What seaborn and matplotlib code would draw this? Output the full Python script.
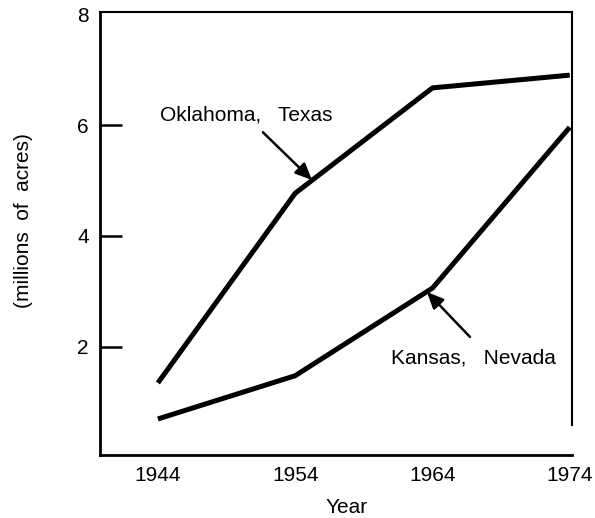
import pandas as pd
import matplotlib.pyplot as plt
import seaborn as sns

years = [1944, 1954, 1964, 1974]
oklahoma_texas = [1.35, 4.77, 6.67, 6.90]
kansas_nevada = [0.70, 1.48, 3.06, 5.96]
y_ticks = [2, 4, 6, 8]

df = pd.DataFrame({
    "Year": years * 2,
    "Acres": oklahoma_texas + kansas_nevada,
    "Region": ["Oklahoma, Texas"] * 4 + ["Kansas, Nevada"] * 4,
})

sns.set_style("white")
plt.rcParams["font.family"] = ["Liberation Sans", "DejaVu Sans"]
plt.rcParams["text.color"] = "black"
plt.rcParams["axes.labelcolor"] = "black"

fig = plt.figure(figsize=(5.95, 5.18), dpi=100)
ax = fig.add_axes([0.168, 0.1216, 0.793, 0.8554])

sns.lineplot(data=df, x="Year", y="Acres", hue="Region",
             palette={"Oklahoma, Texas": "black", "Kansas, Nevada": "black"},
             linewidth=3.6, legend=False, ax=ax, solid_capstyle="butt")

ax.set_xlim(1939.78, 1974.15)
ax.set_ylim(0.05, 8.04)
ax.set_xticks(years)
ax.set_yticks(y_ticks)
ax.tick_params(axis="y", direction="in", length=16, width=1.8, pad=8,
               labelsize=15, left=True, colors="black")
ax.tick_params(axis="x", length=0, pad=8, labelsize=15, colors="black")
# the top tick sits on the frame, no stub there
ax.yaxis.get_major_ticks()[-1].tick1line.set_visible(False)

for side in ["left", "bottom"]:
    ax.spines[side].set_linewidth(2.0)
    ax.spines[side].set_color("black")
ax.spines["top"].set_linewidth(1.5)
ax.spines["top"].set_color("black")
ax.spines["right"].set_linewidth(1.5)
ax.spines["right"].set_color("black")
ax.spines["right"].set_bounds(0.6, 8.04)

ax.set_xlabel("Year", fontsize=15)
ax.set_ylabel("(millions  of  acres)", fontsize=15)
ax.xaxis.set_label_coords(0.523, -0.098)
ax.yaxis.set_label_coords(-0.142, 0.53)

arrow = dict(arrowstyle="-|>,head_length=1.0,head_width=0.45", color="black",
             lw=1.8, shrinkA=0, shrinkB=0)
ax.annotate("", xy=(1955.22, 5.01), xytext=(1951.65, 5.87), arrowprops=arrow)
ax.text(1944.15, 6.18, "Oklahoma,   Texas", fontsize=15, va="center", ha="left")
ax.annotate("", xy=(1963.6, 2.99), xytext=(1966.73, 2.18), arrowprops=arrow)
ax.text(1960.97, 1.80, "Kansas,   Nevada", fontsize=15, va="center", ha="left")

fig.savefig("out.png", dpi=100)
